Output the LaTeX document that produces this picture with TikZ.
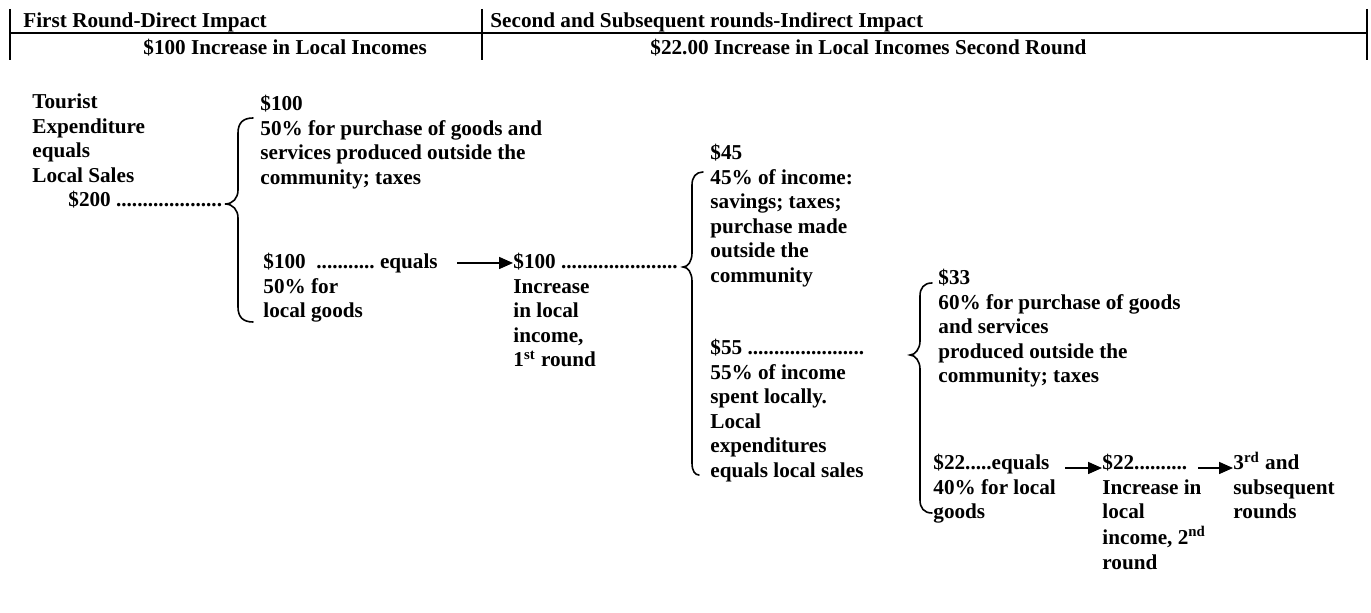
\documentclass[tikz,border=0pt]{standalone}
\usepackage{fontspec}
\setmainfont{Liberation Serif}
\usetikzlibrary{arrows.meta}
\newcommand{\blk}[1]{\begin{tabular}[t]{@{}l@{}}#1\end{tabular}}

\begin{document}
\begin{tikzpicture}[x=0.5pt, y=-0.5pt,
  txt/.style={anchor=base west, inner sep=0pt, font=\fontsize{10.6}{12.25}\selectfont\bfseries\frenchspacing},
  rule/.style={line width=1pt},
  brc/.style={line width=0.8pt, line cap=round},
  arr/.style={line width=0.8pt, -{Triangle[length=7pt, width=6pt]}}]
\useasboundingbox (0,0) rectangle (1371,613);
%header table
\draw[rule] (10,33) -- (1367,33);
\foreach \x in {10, 482, 1367}{\draw[rule] (\x,9) -- (\x,60);}
\node[txt] (h1) at (23,28) {First Round-Direct Impact};
\node[txt] (h2) at (490,28) {Second and Subsequent rounds-Indirect Impact};
\node[txt] (h3) at (143,55) {\$100 Increase in Local Incomes};
\node[txt] (h4) at (650,55) {\$22.00 Increase in Local Incomes Second Round};

%first round
\node[txt] (tour) at (32,109) {\blk{Tourist\\Expenditure\\equals\\Local Sales\\\hspace*{18pt}\$200 ....................}};
\draw[brc] (253,118) .. controls (243,118) and (238,123) .. (238,133) -- (238,190)
  .. controls (238,198) and (233,204) .. (225,204) .. controls (233,204) and (238,210) .. (238,218)
  -- (238,307) .. controls (238,317) and (243,322) .. (253,322);
\node[txt] (out1) at (260,111) {\blk{\$100\\50\% for purchase of goods and\\services produced outside the\\community; taxes}};
\node[txt] (loc1) at (263,269) {\blk{\$100\ \ ........... equals\\50\% for\\local goods}};
\node[txt] (inc1) at (513,269) {\blk{\$100 ......................\\Increase\\in local\\income,\\1\textsuperscript{st} round}};
\draw[arr] ([shift={(97pt,3pt)}]loc1.base west) -- ([yshift=3pt]inc1.base west);

%second round
\draw[brc] (703,172) .. controls (696,172) and (692,177) .. (692,185) -- (692,253)
  .. controls (692,261) and (688,267) .. (683,267) .. controls (688,267) and (692,273) .. (692,281)
  -- (692,463) .. controls (692,471) and (695,475) .. (699,475);
\node[txt] (out2) at (710,160) {\blk{\$45\\45\% of income:\\savings; taxes;\\purchase made\\outside the\\community}};
\node[txt] (loc2) at (710,355) {\blk{\$55 ......................\\55\% of income\\spent locally.\\Local\\expenditures\\equals local sales}};
\draw[brc] (932,283) .. controls (924,283) and (920,288) .. (920,296) -- (920,341)
  .. controls (920,349) and (915,355) .. (910,355) .. controls (915,355) and (920,361) .. (920,369)
  -- (920,500) .. controls (920,508) and (924,513) .. (932,513);
\node[txt] (out3) at (938,285) {\blk{\$33\\60\% for purchase of goods\\and services\\produced outside the\\community; taxes}};
\node[txt] (loc3) at (933,470) {\blk{\$22.....equals\\40\% for local\\goods}};
\node[txt] (inc2) at (1102,470) {\blk{\$22..........\\Increase in\\local\\income, 2\textsuperscript{nd}\\round}};
\node[txt] (next) at (1233,470) {\blk{3\textsuperscript{rd} and\\subsequent\\rounds}};
\draw[arr] ([shift={(66pt,1pt)}]loc3.base west) -- ([yshift=1pt]inc2.base west);
\draw[arr] ([shift={(48pt,1pt)}]inc2.base west) -- ([yshift=1pt]next.base west);
\end{tikzpicture}
\end{document}
